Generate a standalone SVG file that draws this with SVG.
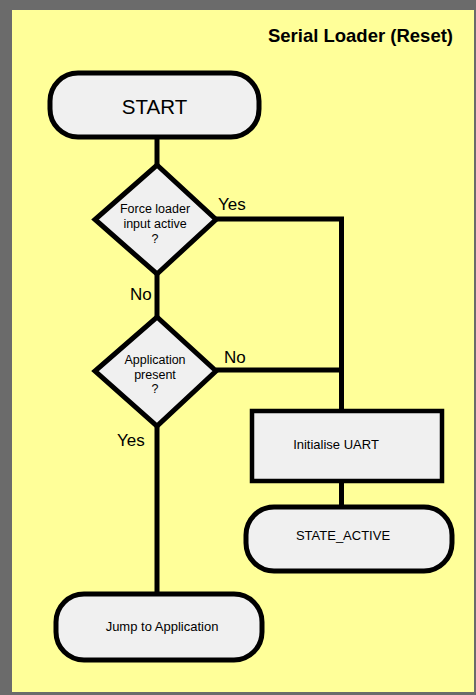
<svg xmlns="http://www.w3.org/2000/svg" width="476" height="695" viewBox="0 0 476 695">
<style>
.sh{fill:#f0f0f0;stroke:#000;stroke-width:5;stroke-linejoin:miter}
.ln{fill:none;stroke:#000;stroke-width:5}
text{font-family:"Liberation Sans",Arial,sans-serif;fill:#000}
.lbl{font-size:17px}
.sm{font-size:12.5px;text-anchor:middle}
.md{font-size:13px;text-anchor:middle}
</style>
<rect x="0" y="0" width="476" height="695" fill="#6b6b6b"/>
<rect x="12" y="10" width="462" height="682" fill="#ffff99"/>
<text x="453" y="42" font-size="18.5" font-weight="bold" text-anchor="end">Serial Loader (Reset)</text>
<g id="connectors">
<line class="ln" x1="157" y1="137" x2="157" y2="165"/>
<line class="ln" x1="157" y1="274" x2="157" y2="317"/>
<line class="ln" x1="157" y1="426" x2="157" y2="593"/>
<polyline class="ln" points="216,219 341.5,219 341.5,410"/>
<line class="ln" x1="216" y1="370" x2="341.5" y2="370"/>
<line class="ln" x1="341.5" y1="482" x2="341.5" y2="506"/>
<text class="lbl" x="218" y="210">Yes</text>
<text class="lbl" x="130" y="300">No</text>
<text class="lbl" x="224" y="363">No</text>
<text class="lbl" x="117" y="446">Yes</text>
</g>
<g id="start">
<rect class="sh" x="50" y="73" width="209" height="64" rx="28" ry="28"/>
<text x="154.5" y="114" font-size="20.5" text-anchor="middle">START</text>
</g>
<g id="force-loader">
<polygon class="sh" points="157,165 216,219.5 157,274 95,219.5"/>
<text class="sm" x="155" y="213">Force loader</text>
<text class="sm" x="155" y="228">input active</text>
<text class="sm" x="155" y="243">?</text>
</g>
<g id="app-present">
<polygon class="sh" points="157,317 216,371 157,426 95,371"/>
<text class="sm" x="155" y="364">Application</text>
<text class="sm" x="155" y="379">present</text>
<text class="sm" x="155" y="393">?</text>
</g>
<g id="init-uart">
<rect class="sh" x="252" y="411" width="190" height="70" style="stroke-width:4.5"/>
<text class="md" x="336" y="449">Initialise UART</text>
</g>
<g id="state-active">
<rect class="sh" x="246" y="507" width="206" height="64" rx="28" ry="28"/>
<text class="md" x="343" y="540">STATE_ACTIVE</text>
</g>
<g id="jump-app">
<rect class="sh" x="56" y="594" width="206" height="66" rx="28" ry="28"/>
<text class="md" x="162" y="631">Jump to Application</text>
</g>
</svg>
